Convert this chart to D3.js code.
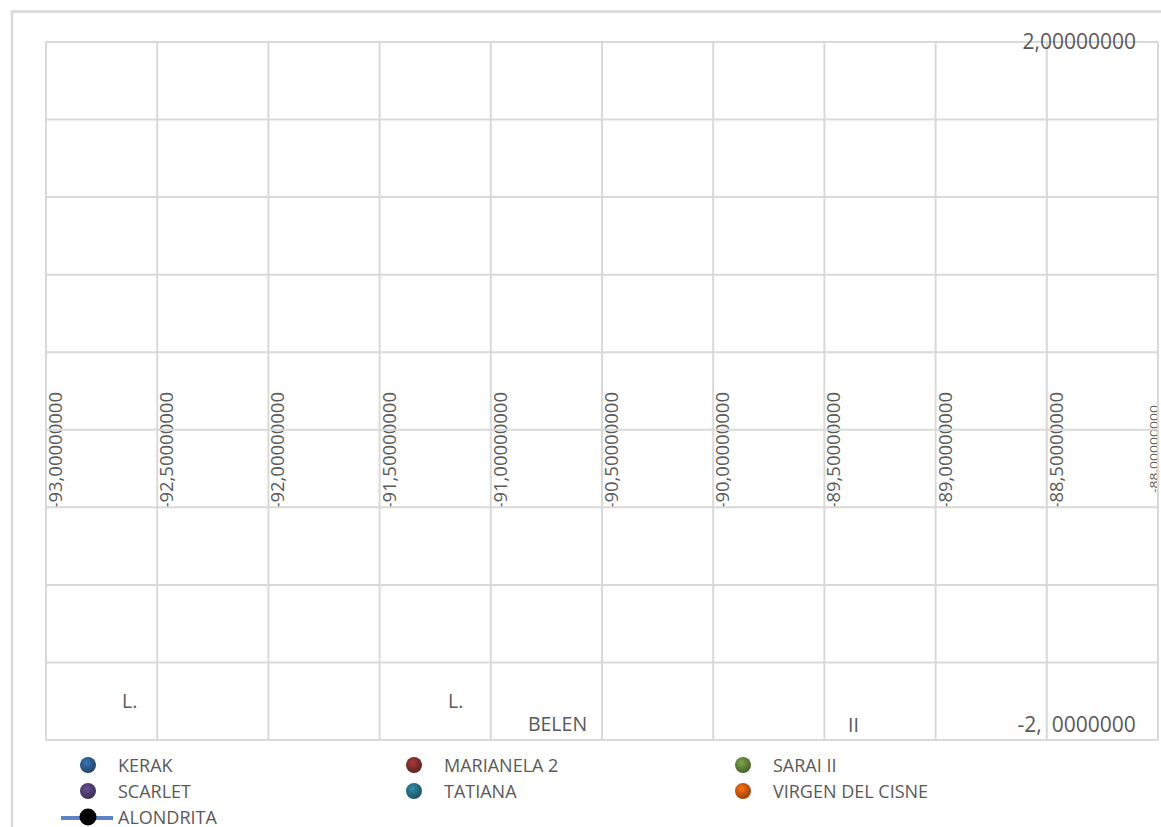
<!DOCTYPE html>
<html>
<head>
<meta charset="utf-8">
<script src="https://cdn.jsdelivr.net/npm/d3@7"></script>
<style>
  html, body { margin: 0; padding: 0; background: #ffffff; }
  svg { display: block; }
  text { font-family: "Open Sans", "DejaVu Sans", sans-serif; fill: #595959; }
</style>
</head>
<body>
<svg id="chart" width="1161" height="827"></svg>
<script>
// Axis ranges (longitude on x, latitude on y)
const xDomain = [-93, -88];
const yDomain = [-2, 2];
const xTickValues = [-93, -92.5, -92, -91.5, -91, -90.5, -90, -89.5, -89, -88.5, -88];
const xTickLabels = ["-93,00000000", "-92,50000000", "-92,00000000", "-91,50000000", "-91,00000000",
                     "-90,50000000", "-90,00000000", "-89,50000000", "-89,00000000", "-88,50000000", "-88,00000000"];
const yGridCount = 9;                     // major divisions on the latitude axis
const yTickLabelMax = "2,00000000";
const yTickLabelMinParts = ["-2,", "0000000"];

// Series (no points fall inside the visible window)
const seriesNames  = ["KERAK", "MARIANELA 2", "SARAI II", "SCARLET", "TATIANA", "VIRGEN DEL CISNE"];
const seriesColors = ["#2b5584", "#7a2b2b", "#5b7a36", "#4c3b6a", "#24687d", "#c2530f"];
const seriesPoints = [[], [], [], [], [], []];
const lineSeriesName = "ALONDRITA";
const lineSeriesPoints = [];

// Point labels that remain inside the plot area
const labelTexts = ["L.", "L.", "BELEN", "II"];
const labelLon   = [-92.658, -91.192, -90.833, -89.394];
const labelLat   = [-1.817, -1.817, -1.948, -1.954];

const svg = d3.select("#chart");
const plot = { left: 46, right: 1158, top: 42, bottom: 740 };

const x = d3.scaleLinear().domain(xDomain).range([plot.left, plot.right]);
const y = d3.scaleLinear().domain(yDomain).range([plot.bottom, plot.top]);

// Outer chart frame (top and left edges visible)
svg.append("line").attr("x1", 12).attr("x2", 1161).attr("y1", 11.5).attr("y2", 11.5)
  .attr("stroke", "#d9d9d9").attr("stroke-width", 2.5);
svg.append("line").attr("x1", 12).attr("x2", 12).attr("y1", 10).attr("y2", 827)
  .attr("stroke", "#d9d9d9").attr("stroke-width", 2.5);

// Longitude labels, rotated, hanging below the zero-latitude line
const xLab = svg.append("g");
xTickValues.forEach((v, i) => {
  const last = i === xTickValues.length - 1;
  const t = xLab.append("text")
    .attr("transform", `translate(${x(v) + (last ? -0.5 : 16)},${y(0) + (last ? 14 : 1)}) rotate(-90)`)
    .attr("text-anchor", "end")
    .style("font-size", last ? "11px" : "18.5px")
    .text(xTickLabels[i]);
  if (last) t.attr("textLength", 88).attr("lengthAdjust", "spacingAndGlyphs");
});

// Gridlines
const yGridValues = d3.range(yGridCount + 1).map(i => yDomain[1] - i * (yDomain[1] - yDomain[0]) / yGridCount);
const grid = svg.append("g").attr("stroke", "#d9d9d9").attr("stroke-width", 2);
grid.selectAll("line.v").data(xTickValues).join("line")
  .attr("x1", d => x(d)).attr("x2", d => x(d))
  .attr("y1", plot.top).attr("y2", plot.bottom);
grid.selectAll("line.h").data(yGridValues).join("line")
  .attr("x1", plot.left).attr("x2", plot.right)
  .attr("y1", d => y(d)).attr("y2", d => y(d));

// Latitude labels at the right-hand axis
svg.append("text")
  .attr("x", plot.right - 22).attr("y", y(yDomain[1]) + 7)
  .attr("text-anchor", "end").style("font-size", "21px")
  .text(yTickLabelMax);
svg.append("text")
  .attr("x", x(-88.5) - 5).attr("y", y(yDomain[0]) - 8)
  .attr("text-anchor", "end").style("font-size", "21px")
  .text(yTickLabelMinParts[0]);
svg.append("text")
  .attr("x", x(-88.5) + 5).attr("y", y(yDomain[0]) - 8)
  .attr("text-anchor", "start").style("font-size", "21px")
  .text(yTickLabelMinParts[1]);

// Point labels
svg.append("g").selectAll("text").data(labelTexts).join("text")
  .attr("x", (d, i) => x(labelLon[i]))
  .attr("y", (d, i) => y(labelLat[i]))
  .style("font-size", "19.5px")
  .text(d => d);

// Glossy marker gradients
const defs = svg.append("defs");
seriesColors.forEach((c, i) => {
  const g = defs.append("radialGradient").attr("id", "mk" + i)
    .attr("cx", "40%").attr("cy", "35%").attr("r", "65%");
  g.append("stop").attr("offset", "0%").attr("stop-color", d3.color(c).brighter(0.9));
  g.append("stop").attr("offset", "60%").attr("stop-color", c);
  g.append("stop").attr("offset", "100%").attr("stop-color", d3.color(c).darker(0.6));
});

// Series points (clipped to the plot area)
defs.append("clipPath").attr("id", "plotClip").append("rect")
  .attr("x", plot.left).attr("y", plot.top)
  .attr("width", plot.right - plot.left).attr("height", plot.bottom - plot.top);
const pts = svg.append("g").attr("clip-path", "url(#plotClip)");
seriesPoints.forEach((arr, i) => {
  pts.selectAll(null).data(arr).join("circle")
    .attr("cx", d => x(d[0])).attr("cy", d => y(d[1])).attr("r", 7.5)
    .attr("fill", `url(#mk${i})`);
});
pts.append("path").datum(lineSeriesPoints)
  .attr("fill", "none").attr("stroke", "#5b84c4").attr("stroke-width", 4)
  .attr("d", d3.line().x(d => x(d[0])).y(d => y(d[1])));

// Legend
const legend = svg.append("g");
const colX = [88, 414, 743];
const rowY = [765, 791, 817];
seriesNames.forEach((name, i) => {
  const cx = colX[i % 3], cy = rowY[Math.floor(i / 3)];
  legend.append("circle").attr("cx", cx).attr("cy", cy).attr("r", 8)
    .attr("fill", `url(#mk${i})`);
  legend.append("text").attr("x", cx + 30).attr("y", cy + 6.5)
    .style("font-size", "18px").text(name);
});
legend.append("line").attr("x1", 61).attr("x2", 113).attr("y1", rowY[2] + 1).attr("y2", rowY[2] + 1)
  .attr("stroke", "#5b84c4").attr("stroke-width", 4);
legend.append("circle").attr("cx", 88).attr("cy", rowY[2]).attr("r", 8.5).attr("fill", "#000");
legend.append("text").attr("x", 118).attr("y", rowY[2] + 6.5)
  .style("font-size", "18px").text(lineSeriesName);
</script>
</body>
</html>
